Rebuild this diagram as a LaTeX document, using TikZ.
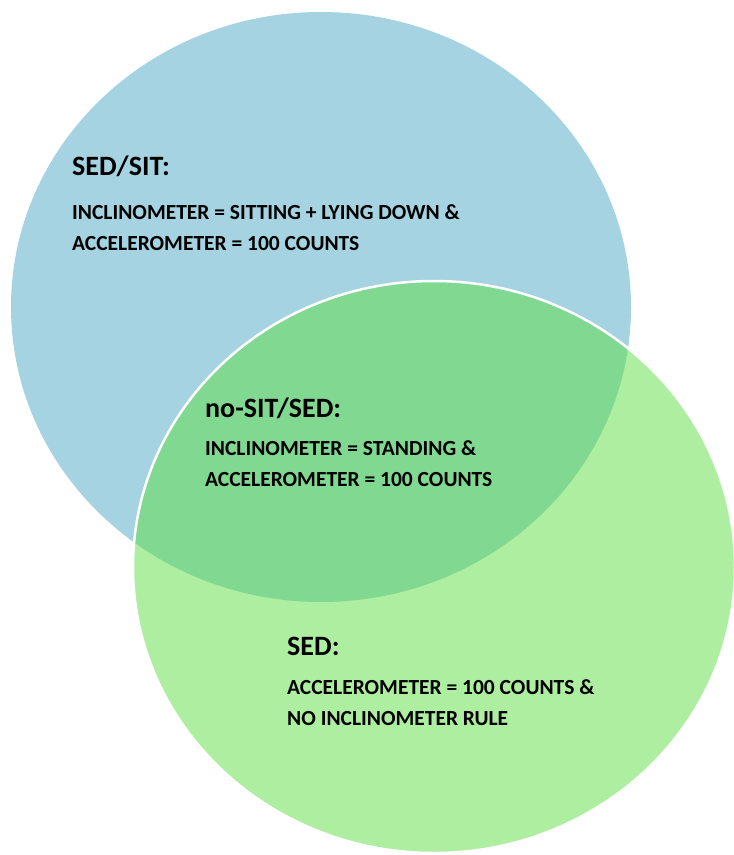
\documentclass[tikz,border=0pt]{standalone}
\usepackage{fontspec}
\setmainfont{Carlito}
\usetikzlibrary{positioning}
\definecolor{sitblue}{RGB}{165,211,225}
\definecolor{sedgreen}{RGB}{174,238,160}
\definecolor{bothgreen}{RGB}{128,216,145}
\tikzset{ttl/.style={font=\bfseries\fontsize{28}{30}\selectfont, anchor=base west, inner sep=0pt},
  rule/.style={font=\bfseries\fontsize{21.5}{31}\selectfont, align=left, inner sep=0pt}}

\begin{document}
\begin{tikzpicture}[x=1pt,y=-1pt]
  \useasboundingbox (0,0) rectangle (734,855);
  \fill[sitblue] (321,307) ellipse [x radius=310pt, y radius=295pt];
  \fill[sedgreen] (434,567) ellipse [x radius=301pt, y radius=286pt];
  \begin{scope}
    \clip (321,307) ellipse [x radius=310pt, y radius=295pt];
    \fill[bothgreen] (434,567) ellipse [x radius=301pt, y radius=286pt];
  \end{scope}
  \draw[white, line width=2.5pt] (434,567) ellipse [x radius=301pt, y radius=286pt];

  \node[ttl] (sit) at (72,175) {SED/SIT:};
  \node[rule] (sitrule) [below=29pt of sit.base west, anchor=north west] {INCLINOMETER = SITTING + LYING DOWN \&\\ACCELEROMETER = 100 COUNTS};
  \node[ttl] (nosit) at (205,417) {no-SIT/SED:};
  \node[rule] (nositrule) [below=23pt of nosit.base west, anchor=north west] {INCLINOMETER = STANDING \&\\ACCELEROMETER = 100 COUNTS};
  \node[ttl] (sed) at (287,655) {SED:};
  \node[rule] (sedrule) [below=24pt of sed.base west, anchor=north west] {ACCELEROMETER = 100 COUNTS \&\\NO INCLINOMETER RULE};
\end{tikzpicture}
\end{document}
